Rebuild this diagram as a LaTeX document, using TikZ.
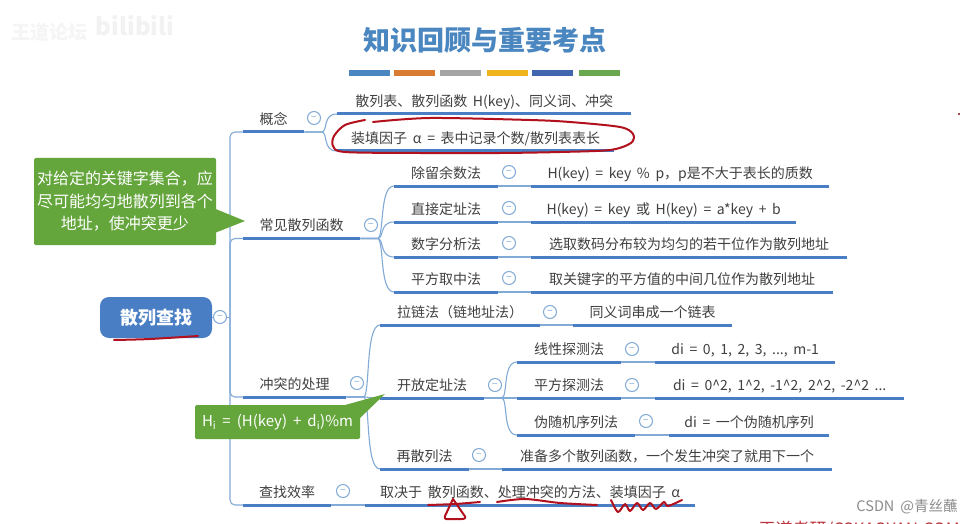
\documentclass[tikz,border=0pt]{standalone}
\usepackage{fontspec}
\setmainfont[WordSpace=1.8]{Noto Sans CJK SC}
\usetikzlibrary{calc,positioning}
\definecolor{branchblue}{RGB}{74,126,196}
\definecolor{linkblue}{RGB}{130,170,215}
\definecolor{titleblue}{RGB}{74,134,192}
\definecolor{notegreen}{RGB}{100,165,60}
\definecolor{inkred}{RGB}{178,16,28}
\definecolor{bodygray}{RGB}{64,64,64}
\definecolor{barorange}{RGB}{217,123,50}
\definecolor{bargray}{RGB}{165,165,165}
\definecolor{baryellow}{RGB}{240,180,28}
\definecolor{barblue}{RGB}{63,102,174}
\definecolor{bargreen}{RGB}{106,168,79}
\tikzset{
  topic/.style={anchor=south west,inner xsep=0pt,inner ysep=4.5pt,text height=10pt,text depth=3pt,
    font=\fontsize{14}{16}\selectfont,text=bodygray},
  bar/.style={line width=3pt,draw=branchblue},
  link/.style={line width=1.1pt,draw=linkblue},
  fold/.style={circle,draw=linkblue,line width=1pt,fill=white,minimum size=13pt,inner sep=0pt,
    font=\fontsize{10}{10}\selectfont,text=linkblue},
  note/.style={fill=notegreen,text=white,rounded corners=1.5pt,inner sep=0pt,align=center},
  ink/.style={line width=2pt,draw=inkred,line cap=round,line join=round},
  swatch/.style={line width=6pt}
}
\newcommand{\topic}[5]{%
  \node[topic,minimum width=#4pt] (#1) at (#2,#3) {#5};
  \draw[bar] (#1.south west) -- (#1.south east);
}
\newcommand{\branch}[2]{%
  \draw[link] (#1.south east) -- ++(17,0) .. controls +(7,0) and ($(#2.south west)+(-15,0)$) .. (#2.south west);
}
\newcommand{\hop}[2]{%
  \draw[link] (#1.south east) -- (#2.south west);
}
\newcommand{\foldmark}[3]{%
  \node[fold] (#1) at (#2,#3) {−};
}
\begin{document}
\begin{tikzpicture}[x=1pt,y=-1pt]
  \useasboundingbox[fill=white] (0,0) rectangle (972,524);

  % heading
  \node[font=\fontsize{27}{30}\selectfont\bfseries,text=titleblue] (heading) at (485,40) {知识回顾与重要考点};
  \draw[swatch,draw=titleblue] (349,73) -- (390,73);
  \draw[swatch,draw=barorange] (394,73) -- (435,73);
  \draw[swatch,draw=bargray] (440,73) -- (481,73);
  \draw[swatch,draw=baryellow] (487,73) -- (528,73);
  \draw[swatch,draw=barblue] (532,73) -- (573,73);
  \draw[swatch,draw=bargreen] (579,73) -- (620,73);

  % first level
  \topic{concept}{243}{132}{61}{概念}
  \topic{hashfn}{243}{238.5}{117}{常见散列函数}
  \topic{conflict}{243}{397}{103}{冲突的处理}
  \topic{efficiency}{243}{505}{88}{查找效率}

  % concept
  \topic{terms}{337}{114}{294}{散列表、散列函数 H(key)、同义词、冲突}
  \topic{loadfactor}{337}{151}{277}{装填因子 α = 表中记录个数/散列表表长}

  % hash functions
  \topic{division}{394}{186}{104}{除留余数法}
  \topic{divisiontxt}{531}{186}{298}{H(key) = key \% p，p是不大于表长的质数}
  \topic{direct}{394}{222}{104}{直接定址法}
  \topic{directtxt}{531}{222}{265}{H(key) = key 或 H(key) = a*key + b}
  \topic{digit}{394}{257}{104}{数字分析法}
  \topic{digittxt}{531}{257}{316}{选取数码分布较为均匀的若干位作为散列地址}
  \topic{square}{394}{292}{104}{平方取中法}
  \topic{squaretxt}{531}{292}{302}{取关键字的平方值的中间几位作为散列地址}

  % conflict handling
  \topic{chain}{380}{325}{160}{拉链法（链地址法）}
  \topic{chaintxt}{573}{325}{159}{同义词串成一个链表}
  \topic{open}{380}{398}{104}{开放定址法}
  \topic{linear}{517}{362}{104}{线性探测法}
  \topic{lineartxt}{655}{362}{180}{di = 0, 1, 2, 3, ..., m-1}
  \topic{quad}{517}{398}{104}{平方探测法}
  \topic{quadtxt}{655}{398}{249}{di = 0\^{}2, 1\^{}2, -1\^{}2, 2\^{}2, -2\^{}2 ...}
  \topic{random}{517}{435}{118}{伪随机序列法}
  \topic{randomtxt}{669}{435}{160}{di = 一个伪随机序列}
  \topic{rehash}{380}{469}{89}{再散列法}
  \topic{rehashtxt}{502}{469}{330}{准备多个散列函数，一个发生冲突了就用下一个}

  % efficiency
  \topic{depends}{365}{505}{330}{取决于 散列函数、处理冲突的方法、装填因子 α}

  % root and trunk
  \node[fill=branchblue,text=white,rounded corners=9pt,minimum width=112pt,minimum height=41pt,
    inner sep=0pt,font=\fontsize{18}{20}\selectfont\bfseries] (root) at (156,317.5) {散列查找};
  \coordinate (trunk) at (230,317.5);
  \draw[link,rounded corners=5pt] (trunk) |- (concept.south west);
  \draw[link,rounded corners=5pt] (trunk) |- (hashfn.south west);
  \draw[link,rounded corners=5pt] (trunk) |- (conflict.south west);
  \draw[link,rounded corners=5pt] (trunk) |- (efficiency.south west);
  \draw[link] (root.east) -- (trunk);

  \branch{concept}{terms}
  \branch{concept}{loadfactor}
  \branch{hashfn}{division}
  \branch{hashfn}{direct}
  \branch{hashfn}{digit}
  \branch{hashfn}{square}
  \branch{conflict}{chain}
  \branch{conflict}{open}
  \branch{conflict}{rehash}
  \branch{open}{linear}
  \branch{open}{quad}
  \branch{open}{random}
  \hop{division}{divisiontxt}
  \hop{direct}{directtxt}
  \hop{digit}{digittxt}
  \hop{square}{squaretxt}
  \hop{chain}{chaintxt}
  \hop{linear}{lineartxt}
  \hop{quad}{quadtxt}
  \hop{random}{randomtxt}
  \hop{rehash}{rehashtxt}
  \hop{efficiency}{depends}

  \foldmark{rootfold}{220}{317}
  \foldmark{conceptfold}{314}{118}
  \foldmark{hashfnfold}{371}{225}
  \foldmark{conflictfold}{357}{383}
  \foldmark{efficiencyfold}{343}{491}
  \foldmark{divisionfold}{509}{172}
  \foldmark{directfold}{509}{208}
  \foldmark{digitfold}{509}{243}
  \foldmark{squarefold}{509}{278}
  \foldmark{chainfold}{550}{312}
  \foldmark{openfold}{495}{385}
  \foldmark{linearfold}{632}{349}
  \foldmark{quadfold}{632}{385}
  \foldmark{randomfold}{646}{421}
  \foldmark{rehashfold}{479}{455}

  % green notes
  \node[note,minimum width=182pt,minimum height=87pt,font=\fontsize{16}{22.5}\selectfont] (goal) at (125,201.5)
    {对给定的关键字集合，应\\尽可能均匀地散列到各个\\地址，使冲突更少};
  \coordinate (goaltip) at (245,221);
  \fill[notegreen] ($(goal.north east)+(-1,51)$) -- (goaltip) -- ($(goal.north east)+(-1,75)$) -- cycle;
  \node[note,minimum width=165pt,minimum height=34pt,font=\fontsize{15}{17}\selectfont] (probe) at (277.5,422)
    {H\textsubscript{i} = (H(key) + d\textsubscript{i})\%m};
  \coordinate (probetip) at (385,394);
  \fill[notegreen] ($(probe.north east)+(-18,1)$) -- (probetip) -- ($(probe.north east)+(0,13)$) -- ($(probe.north east)+(-1,1)$) -- cycle;

  % pen marks
  \draw[ink] plot[smooth] coordinates {(365,120) (345,125) (334,136) (333,146) (345,152) (420,153) (500,153) (560,152) (610,150) (631,143) (633,134) (620,127) (570,122) (530,120) (430,118) (373,122)};
  \draw[ink] plot[smooth] coordinates {(114,340) (150,339) (198,336)};
  \draw[ink] plot[smooth] coordinates {(428,505) (455,504) (480,502)};
  \draw[ink] (453,499) -- (445,516) .. controls (444,520) and (447,519) .. (450,519) -- (462,519) .. controls (466,519) and (466,517) .. (464,515) -- cycle;
  \draw[ink] plot[smooth] coordinates {(497,502) (525,499) (560,503) (597,505)};
  \draw[ink] plot[smooth] coordinates {(611,500) (618,512) (625,504) (630,511) (637,503) (643,510) (650,503) (656,509) (664,502) (668,506) (682,500)};
  \fill[inkred!70!black] (959,114) circle (1.2);

  % watermarks
  \node[text=black!4,font=\fontsize{19}{21}\selectfont\bfseries] (wmleft) at (50,32) {王道论坛};
  \node[text=black!5,font=\fontsize{24}{26}\selectfont\bfseries] (wmright) at (135,26) {bilibili};
  \node[text=black!45,font=\fontsize{14.5}{16}\selectfont] (csdn) at (907,507) {CSDN @青丝蘸};
  \node[text=inkred!85,font=\fontsize{17}{19}\selectfont,anchor=west] (course) at (755,530) {王道考研/CSKAOYAN.COM};
\end{tikzpicture}
\end{document}
